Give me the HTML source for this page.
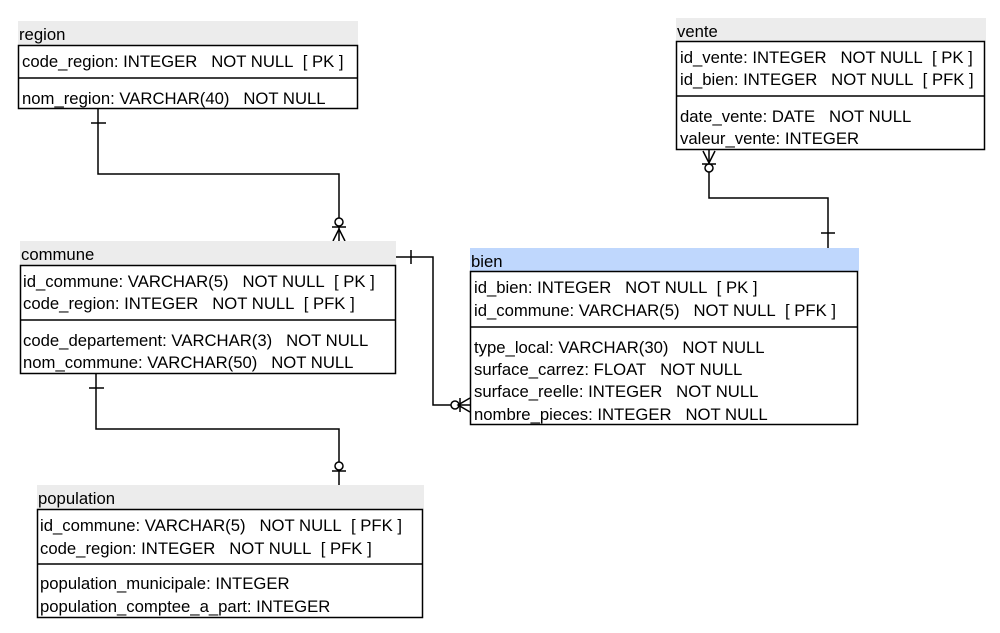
<!DOCTYPE html>
<html><head><meta charset="utf-8"><style>
html,body{margin:0;padding:0;background:#fff;width:1000px;height:633px;overflow:hidden}
svg text{font-family:"Liberation Sans",Arial,sans-serif;font-size:16.7px;fill:#000}
</style></head><body>
<svg width="1000" height="633" viewBox="0 0 1000 633" xmlns="http://www.w3.org/2000/svg">
<g fill="none" stroke="#000" stroke-width="1.5">
<polyline points="98,109 98,174 339,174 339,241"/>
<line x1="91" y1="123" x2="106" y2="123"/>
<circle cx="339" cy="222" r="4" fill="#fff"/>
<line x1="332" y1="227" x2="346" y2="227"/>
<polyline points="333,241 339,229 345,241"/>
<polyline points="396,257 433,257 433,405 470,405"/>
<line x1="411" y1="250" x2="411" y2="264"/>
<circle cx="455" cy="405" r="4" fill="#fff"/>
<line x1="460" y1="398" x2="460" y2="412"/>
<polyline points="470,398 458,405 470,412"/>
<polyline points="96,374 96,429 339,429 339,485"/>
<line x1="89" y1="388" x2="104" y2="388"/>
<circle cx="339" cy="466" r="4" fill="#fff"/>
<line x1="332" y1="471" x2="346" y2="471"/>
<polyline points="709,150 709,198 828,198 828,248"/>
<line x1="821" y1="233" x2="835" y2="233"/>
<polyline points="703,151 709,163 715,151"/>
<line x1="702" y1="164" x2="716" y2="164"/>
<circle cx="709" cy="168" r="4" fill="#fff"/>
</g>

<rect x="18" y="21" width="340" height="24" fill="#ececec"/>
<text x="19" y="40">region</text>
<rect x="18.5" y="45.5" width="339" height="63" fill="#fff" stroke="#000" stroke-width="1.5"/>
<line x1="18" y1="78" x2="358" y2="78" stroke="#000" stroke-width="1.5"/>
<text x="22" y="67">code_region: INTEGER&#160;&#160;&#160;NOT NULL&#160;&#160;[ PK ]</text>
<text x="22" y="104">nom_region: VARCHAR(40)&#160;&#160;&#160;NOT NULL</text>

<rect x="20" y="241" width="376" height="24" fill="#ececec"/>
<text x="21" y="260">commune</text>
<rect x="20.5" y="265.5" width="375" height="108" fill="#fff" stroke="#000" stroke-width="1.5"/>
<line x1="20" y1="320" x2="396" y2="320" stroke="#000" stroke-width="1.5"/>
<text x="23" y="287">id_commune: VARCHAR(5)&#160;&#160;&#160;NOT NULL&#160;&#160;[ PK ]</text>
<text x="23" y="309">code_region: INTEGER&#160;&#160;&#160;NOT NULL&#160;&#160;[ PFK ]</text>
<text x="23" y="346">code_departement: VARCHAR(3)&#160;&#160;&#160;NOT NULL</text>
<text x="23" y="368">nom_commune: VARCHAR(50)&#160;&#160;&#160;NOT NULL</text>

<rect x="37" y="485" width="387" height="24" fill="#ececec"/>
<text x="38" y="504">population</text>
<rect x="37.5" y="509.5" width="385" height="108" fill="#fff" stroke="#000" stroke-width="1.5"/>
<line x1="37" y1="564" x2="423" y2="564" stroke="#000" stroke-width="1.5"/>
<text x="40" y="531">id_commune: VARCHAR(5)&#160;&#160;&#160;NOT NULL&#160;&#160;[ PFK ]</text>
<text x="40" y="554">code_region: INTEGER&#160;&#160;&#160;NOT NULL&#160;&#160;[ PFK ]</text>
<text x="40" y="589">population_municipale: INTEGER</text>
<text x="40" y="612">population_comptee_a_part: INTEGER</text>

<rect x="470" y="248" width="389" height="23" fill="#bfd7fd"/>
<text x="471" y="267">bien</text>
<rect x="470.5" y="271.5" width="387" height="153" fill="#fff" stroke="#000" stroke-width="1.5"/>
<line x1="470" y1="327" x2="858" y2="327" stroke="#000" stroke-width="1.5"/>
<text x="474" y="293">id_bien: INTEGER&#160;&#160;&#160;NOT NULL&#160;&#160;[ PK ]</text>
<text x="474" y="316">id_commune: VARCHAR(5)&#160;&#160;&#160;NOT NULL&#160;&#160;[ PFK ]</text>
<text x="474" y="353">type_local: VARCHAR(30)&#160;&#160;&#160;NOT NULL</text>
<text x="474" y="375">surface_carrez: FLOAT&#160;&#160;&#160;NOT NULL</text>
<text x="474" y="397">surface_reelle: INTEGER&#160;&#160;&#160;NOT NULL</text>
<text x="474" y="420">nombre_pieces: INTEGER&#160;&#160;&#160;NOT NULL</text>

<rect x="676" y="18" width="310" height="23" fill="#ececec"/>
<text x="677" y="37">vente</text>
<rect x="676.5" y="41.5" width="308" height="108" fill="#fff" stroke="#000" stroke-width="1.5"/>
<line x1="676" y1="96" x2="985" y2="96" stroke="#000" stroke-width="1.5"/>
<text x="680" y="63">id_vente: INTEGER&#160;&#160;&#160;NOT NULL&#160;&#160;[ PK ]</text>
<text x="680" y="85">id_bien: INTEGER&#160;&#160;&#160;NOT NULL&#160;&#160;[ PFK ]</text>
<text x="680" y="122">date_vente: DATE&#160;&#160;&#160;NOT NULL</text>
<text x="680" y="144">valeur_vente: INTEGER</text>
</svg>
</body></html>
